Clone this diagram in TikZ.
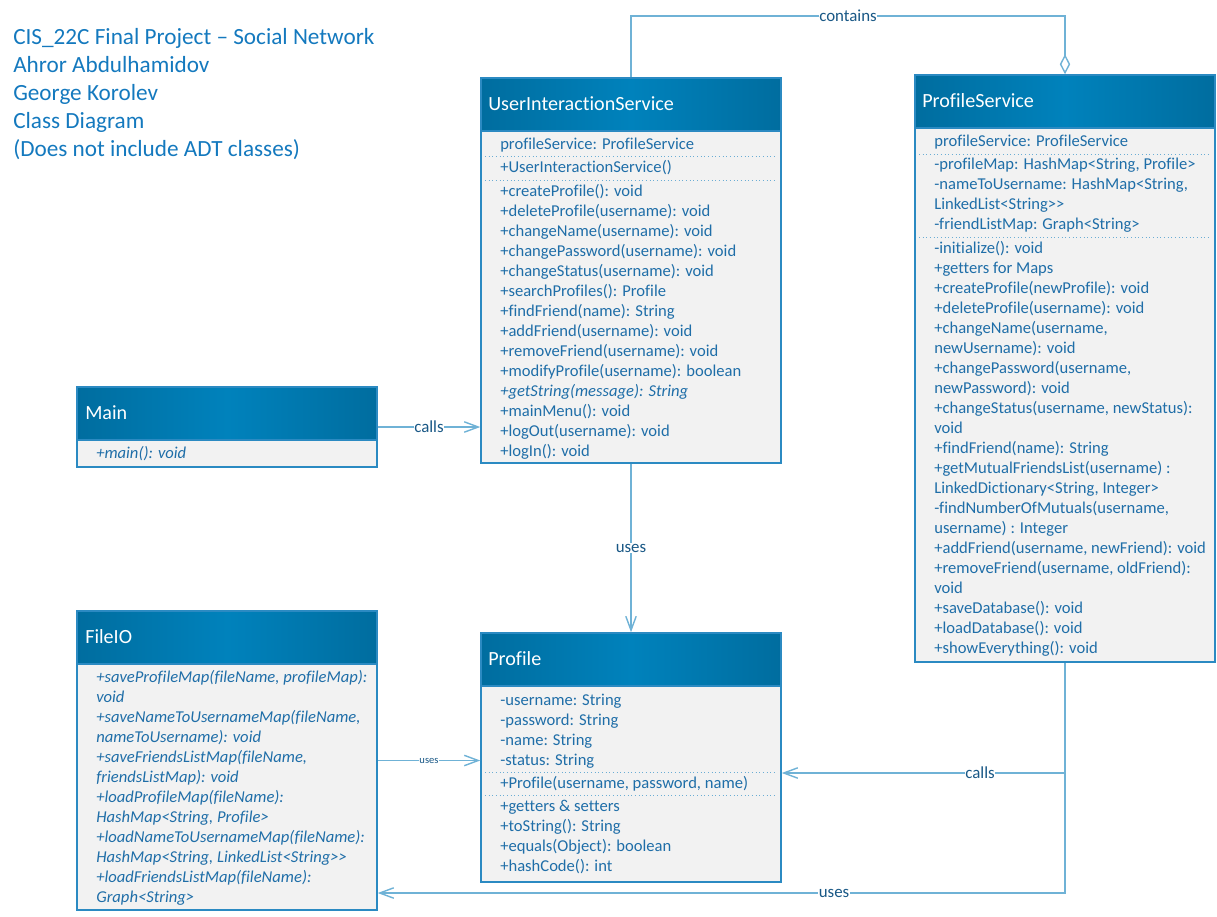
\documentclass[tikz,border=0pt]{standalone}
\usepackage{fontspec}
\setmainfont{Carlito}[Ligatures={TeX,NoCommon}]
\usetikzlibrary{arrows.meta,calc}

\definecolor{headblue}{HTML}{0082BC}
\definecolor{headdark}{HTML}{006D9F}
\definecolor{bodygrey}{HTML}{F2F2F2}
\definecolor{framecol}{HTML}{2B8AC2}
\definecolor{textblue}{HTML}{1F6EA8}
\definecolor{titleblue}{HTML}{1479BE}
\definecolor{linkcol}{HTML}{6FB2D6}

\begin{document}
\begin{tikzpicture}[x=0.025cm, y=-0.025cm,
    classbox/.style={rectangle, draw=framecol, line width=1pt, fill=bodygrey, minimum width=7.5cm, inner sep=0},
    classhead/.style={rectangle, draw=framecol, line width=1pt, left color=headdark, right color=headdark, middle color=headblue, minimum width=7.5cm, minimum height=1.325cm, inner sep=0, anchor=north},
    classname/.style={text=white, font=\fontsize{14.3}{17}\selectfont, anchor=base west, inner sep=0},
    member/.style={text=textblue, font=\fontsize{11.8}{14}\selectfont, anchor=base west, inner sep=0},
    memberit/.style={member, font=\fontsize{11.8}{14}\selectfont\itshape},
    titletext/.style={text=titleblue, font=\fontsize{16.5}{19}\selectfont, anchor=base west, inner sep=0},
    sepline/.style={draw=framecol!70, dotted, line width=0.6pt},
    link/.style={draw=linkcol, line width=1pt},
    arrow/.style={link, -{Straight Barb[length=3.5mm, width=2.6mm]}},
    lbl/.style={fill=white, text=textblue!80!black, font=\fontsize{12}{14}\selectfont, inner sep=0.5pt}
]
    \useasboundingbox (0,0) rectangle (1217,916);

    % title block
    \foreach \txt [count=\i from 0] in {CIS\_22C Final Project -- Social Network, Ahror Abdulhamidov, George Korolev, Class Diagram, (Does not include ADT classes)}
        \node[titletext] (title\i) at (13,44+28*\i) {\txt};

    % UserInteractionService
    \node[classbox, minimum height=9.625cm] (uis) at (631,270.5) {};
    \node[classhead] (uishead) at (uis.north) {};
    \node[classname] (uisname) at (488,110) {UserInteractionService};
    \node[member] (uisattr) at (500,149) {profileService: ProfileService};
    \draw[sepline] (485,156) -- (777,156);
    \node[member] (uisctor) at (500,172) {+UserInteractionService()};
    \draw[sepline] (485,180) -- (777,180);
    \foreach \txt [count=\i from 0] in {+createProfile(): void, +deleteProfile(username): void, +changeName(username): void, +changePassword(username): void, +changeStatus(username): void, +searchProfiles(): Profile, +findFriend(name): String, +addFriend(username): void, +removeFriend(username): void, +modifyProfile(username): boolean, \textit{+getString(message): String}, +mainMenu(): void, +logOut(username): void, +logIn(): void}
        \node[member] (uisop\i) at (500,196+20*\i) {\txt};

    % ProfileService
    \node[classbox, minimum height=14.675cm] (ps) at (1065,368.5) {};
    \node[classhead] (pshead) at (ps.north) {};
    \node[classname] (psname) at (922,107) {ProfileService};
    \node[member] (psself) at (934,146) {profileService: ProfileService};
    \draw[sepline] (919,154) -- (1211,154);
    \foreach \txt [count=\i from 0] in {{-profileMap: HashMap<String, Profile>}, {-nameToUsername: HashMap<String,}, LinkedList<String>{}>, -friendListMap: Graph<String>}
        \node[member] (psattr\i) at (934,169+20*\i) {\txt};
    \draw[sepline] (919,237) -- (1211,237);
    \foreach \txt [count=\i from 0] in {-initialize(): void, +getters for Maps, +createProfile(newProfile): void, +deleteProfile(username): void, {+changeName(username,}, newUsername): void, {+changePassword(username,}, newPassword): void, {+changeStatus(username, newStatus):}, void, +findFriend(name): String, +getMutualFriendsList(username) :, {LinkedDictionary<String, Integer>}, {-findNumberOfMutuals(username,}, username) : Integer, {+addFriend(username, newFriend): void}, {+removeFriend(username, oldFriend):}, void, +saveDatabase(): void, +loadDatabase(): void, +showEverything(): void}
        \node[member] (psop\i) at (934,253+20*\i) {\txt};

    % Main
    \node[classbox, minimum height=2cm] (main) at (227,427) {};
    \node[classhead] (mainhead) at (main.north) {};
    \node[classname] (mainname) at (85,419) {Main};
    \node[memberit] (mainop) at (96,458) {+main(): void};

    % FileIO
    \node[classbox, minimum height=7.475cm] (fileio) at (227,760.5) {};
    \node[classhead] (fileiohead) at (fileio.north) {};
    \node[classname] (fileioname) at (85,643) {FileIO};
    \foreach \txt [count=\i from 0] in {{+saveProfileMap(fileName, profileMap):}, void, {+saveNameToUsernameMap(fileName,}, nameToUsername): void, {+saveFriendsListMap(fileName,}, friendsListMap): void, +loadProfileMap(fileName):, {HashMap<String, Profile>}, +loadNameToUsernameMap(fileName):, {HashMap<String, LinkedList<String>{}>}, +loadFriendsListMap(fileName):, Graph<String>}
        \node[memberit] (fileioop\i) at (96,682+20*\i) {\txt};

    % Profile
    \node[classbox, minimum height=6.225cm] (profile) at (631,757.5) {};
    \node[classhead] (profilehead) at (profile.north) {};
    \node[classname] (profilename) at (488,665) {Profile};
    \foreach \txt [count=\i from 0] in {-username: String, -password: String, -name: String, -status: String}
        \node[member] (profileattr\i) at (500,705+20*\i) {\txt};
    \draw[sepline] (485,772) -- (777,772);
    \node[member] (profilector) at (500,788) {+Profile(username, password, name)};
    \draw[sepline] (485,795) -- (777,795);
    \foreach \txt [count=\i from 0] in {+getters \& setters, +toString(): String, +equals(Object): boolean, +hashCode(): int}
        \node[member] (profileop\i) at (500,811+20*\i) {\txt};

    % connectors
    \coordinate (cbend) at (848,16);
    \draw[link, -{Diamond[open, length=5mm, width=2.6mm]}] (uis.north) |- (cbend) node[lbl] (containslbl) {contains} -| (ps.north);
    \draw[arrow] (main.east) -- node[lbl] (callslbl) {calls} (main.east -| uis.west);
    \draw[arrow] (uis.south) -- node[lbl] (useslbl) {uses} (profile.north);
    \draw[arrow] (fileio.east) -- node[lbl, font=\fontsize{7.5}{9}\selectfont] (fileuseslbl) {uses} (fileio.east -| profile.west);
    \coordinate (psjoin) at (ps.south |- 0,773);
    \draw[link] (ps.south) -- (psjoin);
    \draw[arrow] (psjoin) -- node[lbl, pos=0.3] (pscallslbl) {calls} (psjoin -| profile.east);
    \draw[arrow] (psjoin) |- node[lbl, pos=0.668] (psuseslbl) {uses} (fileio.east |- 0,893);
\end{tikzpicture}
\end{document}
